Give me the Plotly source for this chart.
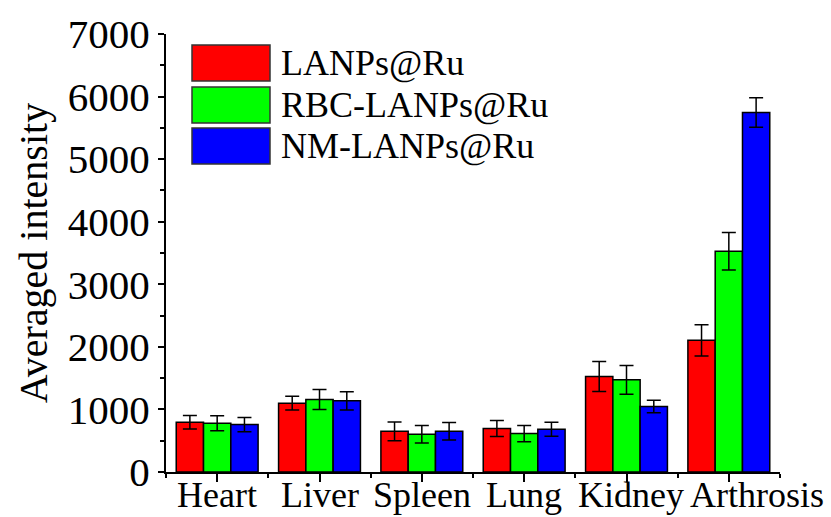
import plotly.graph_objects as go

categories = ["Heart", "Liver", "Spleen", "Lung", "Kidney", "Arthrosis"]
series_names = ["LANPs@Ru", "RBC-LANPs@Ru", "NM-LANPs@Ru"]
colors = ["#FF0000", "#00FF00", "#0000FF"]

lanps = [796, 1100, 651, 694, 1527, 2104]
lanps_err = [107, 110, 150, 128, 240, 250]
rbc = [780, 1158, 603, 614, 1474, 3529]
rbc_err = [120, 160, 140, 130, 230, 300]
nm = [758, 1137, 651, 683, 1046, 5745]
nm_err = [115, 145, 140, 112, 100, 237]

y_ticks = [0, 1000, 2000, 3000, 4000, 5000, 6000, 7000]

values = [lanps, rbc, nm]
errors = [lanps_err, rbc_err, nm_err]

W, H = 831, 517
L, R, T, B = 166, 51, 34, 45
FONT = "Liberation Serif"

x_idx = list(range(len(categories)))

fig = go.Figure()
for name, vals, errs, col in zip(series_names, values, errors, colors):
    fig.add_trace(go.Bar(
        x=x_idx, y=vals, name=name,
        marker=dict(color=col, line=dict(color="black", width=1.5)),
        error_y=dict(type="data", array=errs, visible=True,
                     color="black", thickness=1.5, width=7),
        showlegend=False,
    ))

# manual legend (large boxes like the original)
pw, ph = W - L - R, H - T - B
def px_x(p):
    return (p - L) / pw
def px_y(p):
    return (H - B - p) / ph

shapes = []
annotations = []
box_tops = [45, 87, 128]
for i, (name, col) in enumerate(zip(series_names, colors)):
    top = box_tops[i]
    bot = top + 36
    shapes.append(dict(type="rect", xref="paper", yref="paper",
                       x0=px_x(192), x1=px_x(270), y0=px_y(bot), y1=px_y(top),
                       fillcolor=col, line=dict(color="#333333", width=1.5)))
    annotations.append(dict(xref="paper", yref="paper", x=px_x(279), y=px_y((top + bot) / 2),
                            text=name, showarrow=False, xanchor="left", yanchor="middle",
                            font=dict(family=FONT, size=36, color="black")))

# category labels: drawn at each category position below the axis;
# the last one is nudged right as in the original to avoid overlapping "Kidney"
label_shift = [0, 0, 0, 0, 4, 28]
for xi, cat, sh in zip(x_idx, categories, label_shift):
    annotations.append(dict(xref="x", yref="paper", x=xi, y=0, yshift=-(B - 1), xshift=sh,
                            text=cat, showarrow=False, xanchor="center", yanchor="bottom",
                            borderpad=0,
                            font=dict(family=FONT, size=36, color="black")))

fig.update_layout(
    width=W, height=H,
    margin=dict(l=L, r=R, t=T, b=B, autoexpand=False),
    paper_bgcolor="white", plot_bgcolor="white",
    barmode="group", bargap=0.2, bargroupgap=0,
    shapes=shapes, annotations=annotations,
    font=dict(family=FONT, color="black"),
)
fig.update_xaxes(
    range=[-0.5, 5.5], tickmode="array", tickvals=x_idx, showticklabels=False,
    showline=True, linecolor="black", linewidth=2, showgrid=False, zeroline=False,
    ticks="outside", ticklen=8, tickwidth=1.5, tickcolor="black",
    minor=dict(tick0=-0.5, dtick=1, ticks="outside", ticklen=4, tickwidth=1.5,
               tickcolor="black", showgrid=False),
    automargin=False,
)
fig.update_yaxes(
    range=[0, 7000], tickmode="array", tickvals=y_ticks,
    showline=True, linecolor="black", linewidth=2, showgrid=False, zeroline=False,
    ticks="outside", ticklen=6, tickwidth=1.5, tickcolor="black",
    tickfont=dict(family=FONT, size=41, color="black"),
    minor=dict(tick0=0, dtick=500, ticks="outside", ticklen=4, tickwidth=1.5,
               tickcolor="black", showgrid=False),
    title=dict(text="Averaged intensity", font=dict(family=FONT, size=40, color="black"), standoff=8),
    automargin=False,
)

fig.write_html("out.html")
